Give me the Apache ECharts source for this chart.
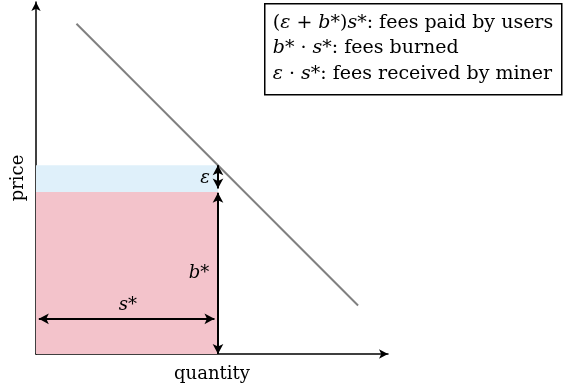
<!DOCTYPE html>
<html>
<head>
<meta charset="utf-8">
<script src="https://cdn.jsdelivr.net/npm/echarts@6/dist/echarts.min.js"></script>
<style>
  html, body { margin: 0; padding: 0; background: #fff; }
  #container { width: 564px; height: 389px; }
</style>
</head>
<body>
<div id="container"></div>
<script>
// values (same unit on both axes)
var axisMax = [10, 10];               // quantity, price
var demand = [[1.15, 9.38], [9.15, 1.38]];
var sStar = 5.17;                     // s*
var bStar = 4.6;                      // b*
var eps = 0.76;                       // epsilon
var sArrowY = 1.0;                    // height of the s* arrow
var legendLines = [
  '({i|ε} + {i|b}*){i|s}*: fees paid by users',
  '{i|b}* · {i|s}*: fees burned',
  '{i|ε} · {i|s}*: fees received by miner'
];

var serif = '"DejaVu Serif", serif';
var black = '#000';

var chart = echarts.init(document.getElementById('container'), null, {renderer: 'canvas'});

function arrow(a, b) {
  return [{coord: a}, {coord: b}];
}

var option = {
  animation: false,
  grid: {left: 36, right: 176, top: 2, bottom: 35},
  xAxis: {
    type: 'value', min: 0, max: axisMax[0],
    splitLine: {show: false}, axisTick: {show: false}, axisLabel: {show: false},
    axisLine: {lineStyle: {color: black, width: 1.5}, symbol: ['none', 'arrow'], symbolSize: [7, 9]},
    name: 'quantity', nameLocation: 'middle', nameGap: 11,
    nameTextStyle: {fontFamily: serif, fontSize: 18, color: black, verticalAlign: 'top'}
  },
  yAxis: {
    type: 'value', min: 0, max: axisMax[1],
    splitLine: {show: false}, axisTick: {show: false}, axisLabel: {show: false},
    axisLine: {lineStyle: {color: black, width: 1.5}, symbol: ['none', 'arrow'], symbolSize: [7, 9]},
    name: 'price', nameLocation: 'middle', nameGap: 9, nameRotate: 90,
    nameTextStyle: {fontFamily: serif, fontSize: 18, color: black}
  },
  series: [
    {
      type: 'line',
      data: [],
      z: 1,
      markArea: {
        silent: true,
        data: [
          [{coord: [0, 0], itemStyle: {color: '#f3c3cb'}}, {coord: [sStar, bStar]}],
          [{coord: [0, bStar], itemStyle: {color: '#dff0fa'}}, {coord: [sStar, bStar + eps]}]
        ]
      }
    },
    {
      type: 'line',
      data: demand,
      symbol: 'none',
      z: 3,
      lineStyle: {color: '#808080', width: 2}
    },
    {
      type: 'line',
      data: [],
      z: 4,
      markLine: {
        silent: true,
        symbol: ['arrow', 'arrow'],
        symbolSize: [8, 10],
        label: {show: false},
        lineStyle: {color: black, width: 2, type: 'solid'},
        data: [
          arrow([sStar, 0], [sStar, bStar - 0.02]),
          arrow([sStar, bStar + 0.1], [sStar, bStar + eps]),
          arrow([0.08, sArrowY], [sStar - 0.1, sArrowY])
        ]
      },
      markPoint: {
        silent: true,
        symbol: 'circle',
        symbolSize: 0,
        label: {
          show: true, position: 'inside', color: black,
          fontFamily: serif, fontSize: 18, fontStyle: 'italic'
        },
        data: [
          {coord: [sStar, bStar + eps / 2], label: {formatter: 'ε', offset: [-13, 0]}},
          {coord: [sStar, bStar / 2], label: {formatter: 'b*', offset: [-19, 0]}},
          {coord: [sStar / 2, sArrowY], label: {formatter: 's*', offset: [1, -13]}}
        ]
      }
    }
  ],
  graphic: [
    {
      type: 'group', left: 264, top: 3,
      children: [
        {type: 'rect', shape: {x: 0, y: 0, width: 297, height: 91},
         style: {fill: '#fff', stroke: black, lineWidth: 1.5}},
      ].concat(legendLines.map(function (t, i) {
        return {
          type: 'text', x: 8, y: 19 + i * 25.5,
          style: {
            text: t, fill: black, font: '19px ' + serif, verticalAlign: 'middle',
            rich: {i: {fontStyle: 'italic', fontFamily: serif, fontSize: 19}}
          }
        };
      }))
    }
  ]
};

chart.setOption(option);
</script>
</body>
</html>
